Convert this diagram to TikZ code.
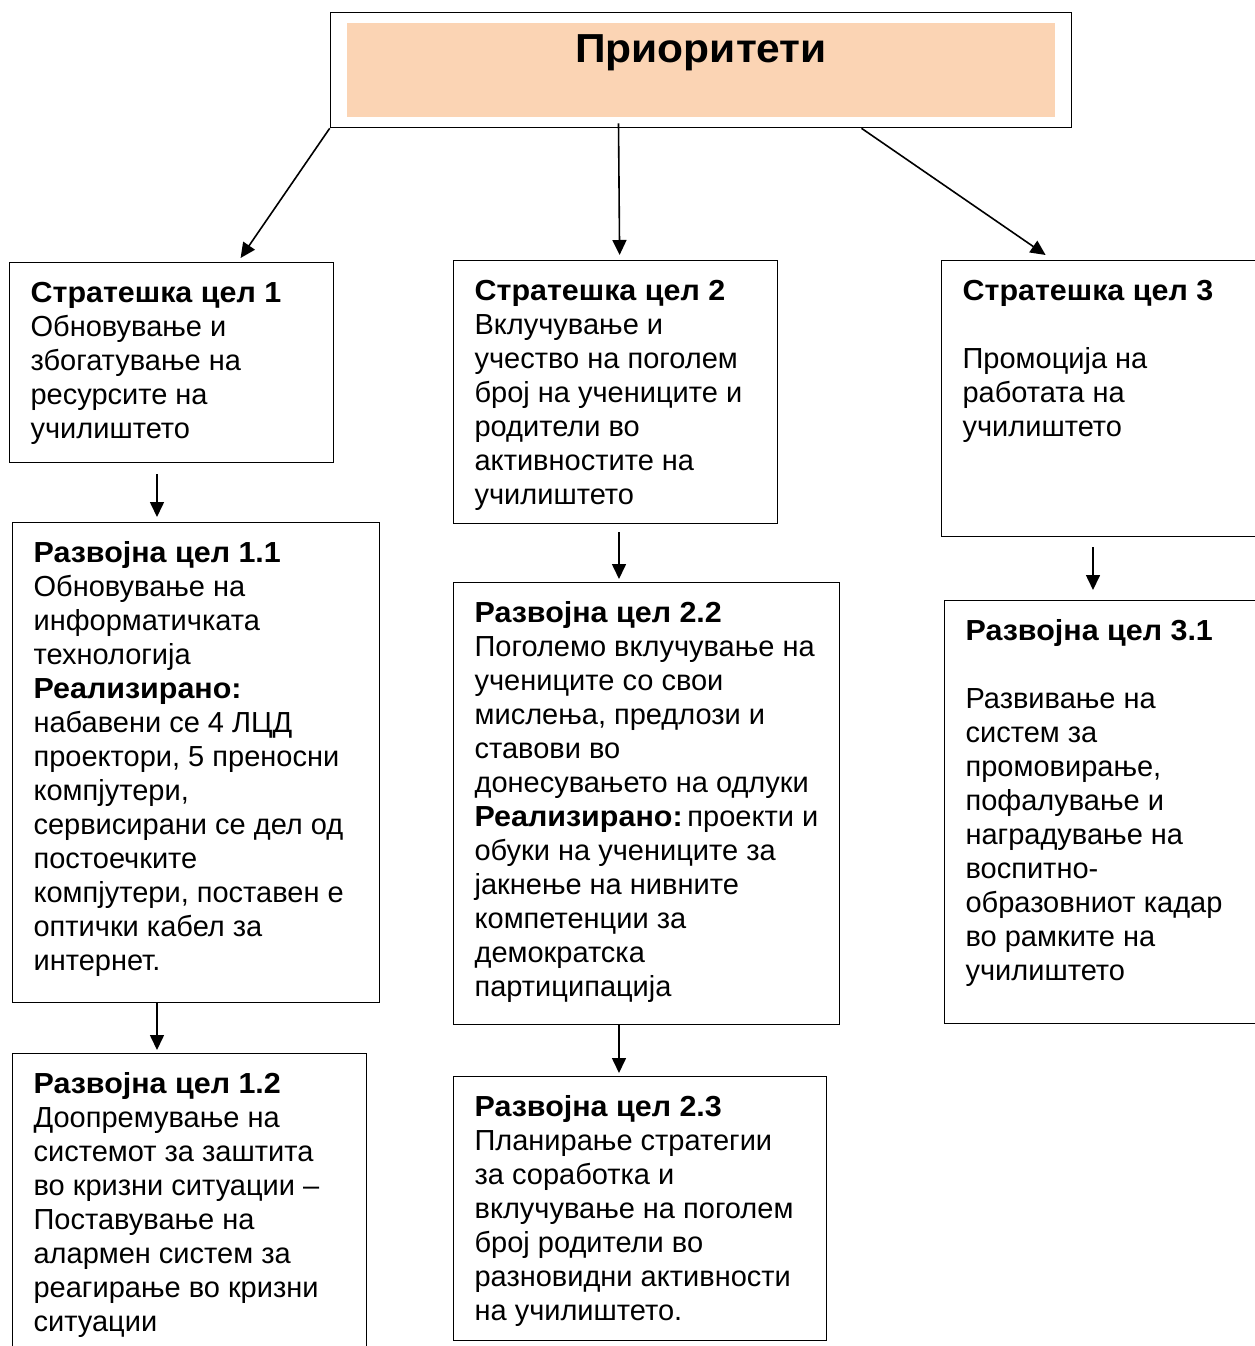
\documentclass[tikz,border=0pt]{standalone}
\usepackage{fontspec}
\setmainfont{Liberation Sans}[BoldFeatures={FakeStretch=1.05}]
\usetikzlibrary{positioning, fit, arrows.meta}
\definecolor{peach}{HTML}{FBD4B4}

\tikzset{
  goal/.style={draw, line width=1.2pt, anchor=north west, inner xsep=21pt, inner ysep=16pt, font=\fontsize{29}{34}\selectfont},
  arr/.style={-{Triangle[length=15pt,width=14pt]}, line width=1.6pt}
}
\newcommand{\goaltext}[3]{\begin{minipage}[t][#2][t]{#1}\raggedright\strut#3\end{minipage}}

\begin{document}
\begin{tikzpicture}[x=1pt, y=-1pt]
\useasboundingbox (0,0) rectangle (1254,1346);

% Nodes
\node[fill=peach, anchor=base, minimum width=708pt, inner sep=0pt, text height=40pt, text depth=54pt, font=\bfseries\fontsize{40.5}{46}\selectfont] (title) at (701,63) {Приоритети};
\node[draw, line width=1.2pt, fit=(title), inner xsep=16.5pt, inner ysep=10.5pt] (prio) {};

\node[goal] (s1) at (9,262) {\goaltext{282pt}{168pt}{\textbf{Стратешка цел 1}\\ Обновување и\\ збогатување на\\ ресурсите на\\ училиштето}};
\node[goal] (s2) at (453,260) {\goaltext{282pt}{231pt}{\textbf{Стратешка цел 2}\\ Вклучување и\\ учество на поголем\\ број на учениците и\\ родители во\\ активностите на\\ училиштето}};
\node[goal] (s3) at (941,260) {\goaltext{288pt}{244pt}{\textbf{Стратешка цел 3}\\[\baselineskip] Промоција на\\ работата на\\ училиштето}};

\node[goal] (r11) at (12,522) {\goaltext{325pt}{448pt}{\textbf{Развојна цел 1.1}\\ Обновување на\\ информатичката\\ технологија\\ \textbf{Реализирано:}\\ набавени се 4 ЛЦД\\ проектори, 5 преносни\\ компјутери,\\ сервисирани се дел од\\ постоечките\\ компјутери, поставен е\\ оптички кабел за\\ интернет.}};
\node[goal] (r12) at (12,1053) {\goaltext{312pt}{288pt}{\textbf{Развојна цел 1.2}\\ Доопремување на\\ системот за заштита\\ во кризни ситуации –\\ Поставување на\\ алармен систем за\\ реагирање во кризни\\ ситуации}};
\node[goal] (r22) at (453,582) {\goaltext{344pt}{410pt}{\textbf{Развојна цел 2.2}\\ \mbox{Поголемо вклучување на}\\ учениците со свои\\ мислења, предлози и\\ ставови во\\ донесувањето на одлуки\\ \mbox{\textbf{Реализирано:}\,проекти и}\\ обуки на учениците за\\ јакнење на нивните\\ компетенции за\\ демократска\\ партиципација}};
\node[goal] (r23) at (453,1076) {\goaltext{331pt}{232pt}{\textbf{Развојна цел 2.3}\\ Планирање стратегии\\ за соработка и\\ вклучување на поголем\\ број родители во\\ разновидни активности\\ на училиштето.}};
\node[goal] (r31) at (944,600) {\goaltext{288pt}{391pt}{\textbf{Развојна цел 3.1}\\[\baselineskip] Развивање на\\ систем за\\ промовирање,\\ пофалување и\\ наградување на\\ воспитно-\\ образовниот кадар\\ во рамките на\\ училиштето}};

% Arrows
\draw[arr] (prio.south west) -- ([xshift=69pt,yshift=4pt]s1.north);
\draw[arr] ([xshift=-82.5pt,yshift=5pt]prio.south) -- ([xshift=4pt,yshift=5pt]s2.north);
\draw[arr] ([xshift=160.5pt]prio.south) -- ([xshift=-61pt,yshift=5pt]s3.north);
\draw[arr] ([xshift=148pt,yshift=-11pt]s1.south west) -- ([xshift=145pt,yshift=5pt]r11.north west);
\draw[arr] ([xshift=145pt]r11.south west) -- ([xshift=145pt,yshift=3pt]r12.north west);
\draw[arr] ([xshift=166pt,yshift=-8pt]s2.south west) -- ([xshift=166pt,yshift=3pt]r22.north west);
\draw[arr] ([xshift=166pt]r22.south west) -- ([xshift=166pt,yshift=3pt]r23.north west);
\draw[arr] ([xshift=152pt,yshift=-10pt]s3.south west) -- ([xshift=149pt,yshift=10pt]r31.north west);

\end{tikzpicture}
\end{document}
